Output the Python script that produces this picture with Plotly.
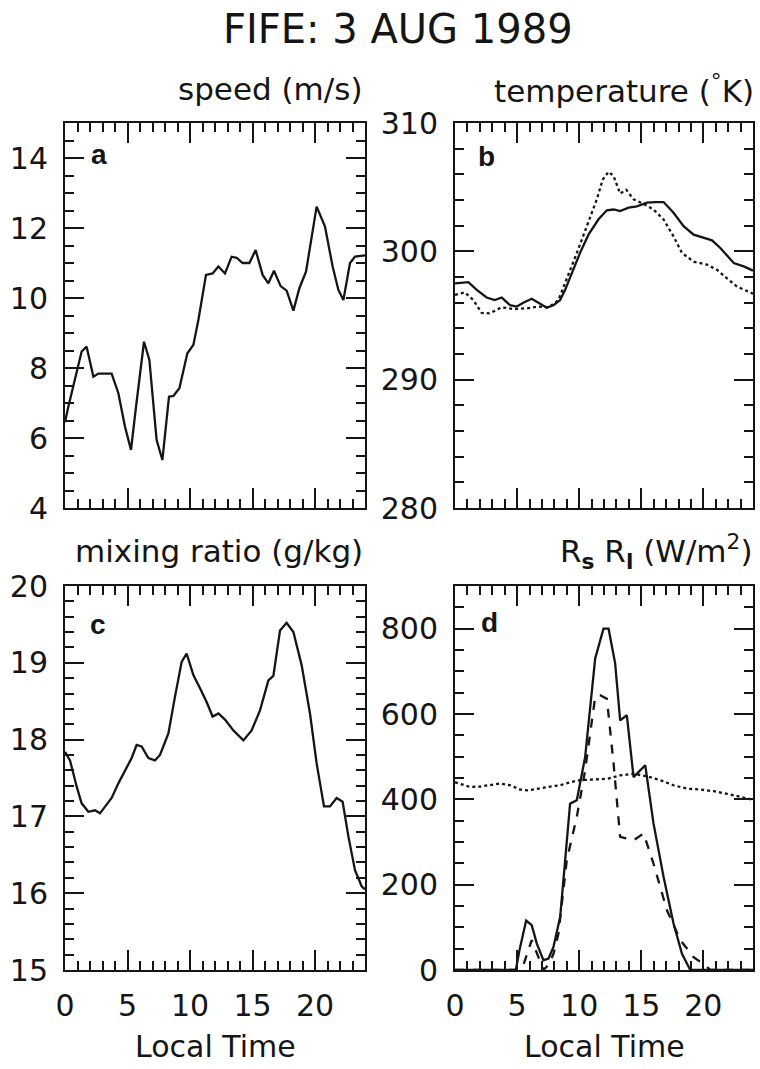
import plotly.graph_objects as go

# ---------------- data ----------------
# Panel a: wind speed (m/s) vs local time (h)
speed_t = [0.0, 0.27, 1.33, 1.73, 2.27, 2.67, 3.73, 4.27, 4.8, 5.28, 5.68, 6.32, 6.75, 7.33, 7.79,
           8.32, 8.67, 9.15, 9.79, 10.27, 10.67, 11.28, 11.81, 12.27, 12.8, 13.33, 13.73, 14.21,
           14.75, 15.25, 15.81, 16.27, 16.72, 17.25, 17.73, 18.27, 18.75, 19.28, 20.13, 20.8,
           21.41, 21.87, 22.27, 22.8, 23.2, 23.87, 24.0]
speed_v = [6.45, 6.9, 8.47, 8.61, 7.75, 7.84, 7.84, 7.28, 6.32, 5.66, 6.89, 8.75, 8.23, 5.94, 5.37,
           7.18, 7.2, 7.42, 8.42, 8.66, 9.37, 10.66, 10.7, 10.9, 10.7, 11.18, 11.15, 11.0,
           11.0, 11.37, 10.66, 10.42, 10.78, 10.34, 10.21, 9.64, 10.28, 10.75, 12.61, 12.04,
           10.9, 10.23, 9.94, 11.0, 11.18, 11.22, 11.22]

# Panel b: temperature (K), solid and dotted
temp_solid_t = [0.0, 1.08, 1.75, 2.55, 3.2, 3.76, 4.44, 4.97, 5.5, 6.18, 6.72, 7.39, 7.93, 8.47,
                8.87, 9.41, 10.08, 10.75, 11.56, 12.23, 12.77, 13.3, 13.98, 14.65, 15.46, 16.13,
                16.8, 17.6, 18.41, 19.22, 19.89, 20.7, 21.37, 22.45, 23.25, 24.0]
temp_solid_v = [297.5, 297.6, 297.0, 296.4, 296.2, 296.4, 295.8, 295.7, 296.0, 296.3, 296.0, 295.6,
                295.8, 296.2, 297.0, 298.3, 299.9, 301.3, 302.5, 303.2, 303.26, 303.13, 303.4,
                303.5, 303.8, 303.84, 303.84, 303.0, 301.96, 301.3, 301.1, 300.86, 300.26, 299.09,
                298.83, 298.5]
temp_dot_t = [0.0, 0.8, 1.48, 2.15, 2.82, 3.76, 4.7, 5.78, 6.72, 7.53, 8.33, 9.0, 9.81, 10.62,
              11.42, 11.9, 12.37, 12.77, 13.3, 13.79, 14.38, 15.19, 15.99, 16.8, 17.6, 18.28,
              19.22, 20.3, 21.1, 21.9, 22.7, 24.0]
temp_dot_v = [296.6, 296.8, 296.2, 295.2, 295.17, 295.64, 295.5, 295.56, 295.7, 295.64, 296.2,
              297.8, 299.87, 301.96, 304.05, 305.6, 306.2, 305.87, 304.5, 304.8, 304.05, 303.7,
              303.26, 302.48, 301.17, 299.87, 299.2, 298.96, 298.56, 297.9, 297.26, 296.7]

# Panel c: mixing ratio (g/kg)
mix_t = [0.0, 0.4, 0.93, 1.33, 1.87, 2.4, 2.8, 3.2, 3.73, 4.27, 4.8, 5.33, 5.73, 6.13, 6.67, 7.2,
         7.6, 8.27, 8.8, 9.33, 9.73, 10.27, 10.8, 11.33, 11.81, 12.27, 12.8, 13.47, 14.27, 14.93,
         15.6, 16.27, 16.67, 17.2, 17.73, 18.27, 18.93, 19.6, 20.13, 20.72, 21.2, 21.73, 22.21,
         22.67, 23.2, 23.73, 24.0]
mix_v = [17.84, 17.73, 17.39, 17.17, 17.06, 17.08, 17.04, 17.13, 17.24, 17.43, 17.6, 17.76, 17.93,
         17.91, 17.76, 17.73, 17.8, 18.08, 18.56, 19.01, 19.12, 18.84, 18.67, 18.49, 18.3, 18.34,
         18.26, 18.12, 17.99, 18.12, 18.38, 18.77, 18.83, 19.42, 19.52, 19.4, 18.97, 18.34, 17.69,
         17.13, 17.13, 17.24, 17.19, 16.74, 16.3, 16.09, 16.05]

# Panel d: radiation (W/m2): solid, dashed, dotted
rad_solid_t = [0.0, 4.9, 5.19, 5.73, 6.18, 6.59, 7.12, 7.53, 7.93, 8.47, 9.27, 9.81, 10.48, 11.29,
               11.96, 12.37, 12.9, 13.3, 13.84, 14.38, 15.32, 15.99, 16.8, 17.6, 18.28, 18.95, 24.0]
rad_solid_v = [0, 0, 46, 116, 105, 62, 23, 27, 54, 124, 390, 398, 499, 730,
               800, 800, 718, 585, 597, 452, 480, 343, 218, 109, 38, 0, 0]
rad_dash_t = [0.0, 5.2, 5.51, 6.18, 6.72, 7.12, 7.53, 7.93, 8.33, 9.0, 9.81, 10.48, 11.29, 11.69,
              12.23, 12.77, 13.3, 14.38, 15.19, 15.99, 17.07, 18.15, 19.22, 20.16, 20.56, 24.0]
rad_dash_v = [0, 0, 12, 70, 30, 0, 12, 38, 85, 257, 359, 468, 640, 644,
              636, 484, 312, 304, 320, 249, 140, 70, 30, 11, 0, 0]
rad_dot_t = [0.0, 1.21, 2.02, 2.82, 3.63, 4.44, 5.24, 5.91, 6.59, 7.66, 8.47, 9.27, 10.08, 11.16,
             12.23, 13.3, 14.38, 15.46, 16.53, 17.6, 18.68, 19.76, 20.83, 21.9, 22.98, 24.0]
rad_dot_v = [440, 429, 430, 434, 437, 433, 423, 421, 425, 430, 433, 440, 445, 446,
             448, 456, 460, 454, 445, 433, 425, 423, 419, 413, 405, 399]

x_ticks = [0, 5, 10, 15, 20]

# ---------------- figure ----------------
W, H = 760, 1069
FONT = "DejaVu Sans"
INK = "#151515"


def px(x):
    return x / W


def py(y):
    return 1 - y / H


fig = go.Figure()

LW = 2.3
fig.add_trace(go.Scatter(x=speed_t, y=speed_v, mode="lines", line=dict(color=INK, width=LW),
                         xaxis="x", yaxis="y"))
fig.add_trace(go.Scatter(x=temp_solid_t, y=temp_solid_v, mode="lines",
                         line=dict(color=INK, width=LW), xaxis="x2", yaxis="y2"))
fig.add_trace(go.Scatter(x=temp_dot_t, y=temp_dot_v, mode="lines",
                         line=dict(color=INK, width=LW, dash="dot"), xaxis="x2", yaxis="y2"))
fig.add_trace(go.Scatter(x=mix_t, y=mix_v, mode="lines", line=dict(color=INK, width=LW),
                         xaxis="x3", yaxis="y3"))
fig.add_trace(go.Scatter(x=rad_solid_t, y=rad_solid_v, mode="lines",
                         line=dict(color=INK, width=LW), xaxis="x4", yaxis="y4"))
fig.add_trace(go.Scatter(x=rad_dash_t, y=rad_dash_v, mode="lines",
                         line=dict(color=INK, width=LW, dash="dash"), xaxis="x4", yaxis="y4"))
fig.add_trace(go.Scatter(x=rad_dot_t, y=rad_dot_v, mode="lines",
                         line=dict(color=INK, width=LW, dash="dot"), xaxis="x4", yaxis="y4"))

left_dom = [px(65), px(365)]
right_dom = [px(455), px(753)]
top_dom = [py(508), py(123)]
bot_dom = [py(970), py(586)]

tickfont = dict(family=FONT, size=30, color=INK)


def xaxis(domain, anchor, labels):
    return dict(domain=domain, anchor=anchor, range=[0, 24], tickmode="array", tickvals=x_ticks,
                showticklabels=labels, showline=True, linewidth=2, linecolor=INK,
                mirror="allticks", ticks="inside", ticklen=20, tickwidth=2, tickcolor=INK,
                minor=dict(ticks="inside", ticklen=9, tickwidth=1.5, tickcolor=INK, dtick=1,
                           tick0=0, showgrid=False),
                showgrid=False, zeroline=False, tickfont=tickfont, ticklabelstandoff=8,
                fixedrange=True)


def yaxis(domain, anchor, rng, dtick, minor_dtick):
    return dict(domain=domain, anchor=anchor, range=rng, tickmode="linear", tick0=rng[0],
                dtick=dtick, showline=True, linewidth=2, linecolor=INK, mirror="allticks",
                ticks="inside", ticklen=19, tickwidth=2, tickcolor=INK,
                minor=dict(ticks="inside", ticklen=9, tickwidth=1.5, tickcolor=INK,
                           dtick=minor_dtick, tick0=rng[0], showgrid=False),
                showgrid=False, zeroline=False, tickfont=tickfont, ticklabelstandoff=9,
                fixedrange=True)


fig.update_layout(
    width=W, height=H, margin=dict(l=0, r=0, t=0, b=0, autoexpand=False), autosize=False,
    paper_bgcolor="white", plot_bgcolor="white", showlegend=False,
    xaxis=xaxis(left_dom, "y", False),
    yaxis=yaxis(top_dom, "x", [4, 15], 2, 0.5),
    xaxis2=xaxis(right_dom, "y2", False),
    yaxis2=yaxis(top_dom, "x2", [280, 310], 10, 2),
    xaxis3=xaxis(left_dom, "y3", True),
    yaxis3=yaxis(bot_dom, "x3", [15, 20], 1, 0.2),
    xaxis4=xaxis(right_dom, "y4", True),
    yaxis4=yaxis(bot_dom, "x4", [0, 900], 200, 50),
)

ann = []


def text(x, y, s, size, xanchor="center"):
    ann.append(dict(x=x, y=y, xref="paper", yref="paper", text=s, showarrow=False,
                    xanchor=xanchor, yanchor="middle",
                    font=dict(family=FONT, size=size, color=INK)))


text(px(398), py(29), "FIFE: 3 AUG 1989", 40)
text(px(365), py(89), "speed (m/s)", 31, "right")
text(px(756), py(89), "temperature (<sup>°</sup>K)", 31, "right")
text(px(365), py(551), "mixing ratio (g/kg)", 31, "right")
text(px(754), py(551), "R<sub><b>s</b></sub> R<sub><b>l</b></sub> (W/m<sup>2</sup>)", 31, "right")
text(px(215), py(1046), "Local Time", 30)
text(px(604), py(1046), "Local Time", 30)

panel_letters = [("a", "x", "y", 1.9, 14.1), ("b", "x2", "y2", 1.7, 307.4),
                 ("c", "x3", "y3", 1.8, 19.5), ("d", "x4", "y4", 1.9, 815)]
for lab, xr, yr, lx, ly in panel_letters:
    ann.append(dict(x=lx, y=ly, xref=xr, yref=yr, text="<b>%s</b>" % lab, showarrow=False,
                    xanchor="left", yanchor="middle",
                    font=dict(family="Liberation Sans", size=28, color=INK)))

fig.update_layout(annotations=ann)

fig.write_html("out.html")
